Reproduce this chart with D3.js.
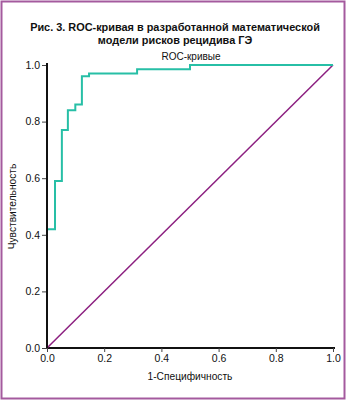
<!DOCTYPE html>
<html>
<head>
<meta charset="utf-8">
<script src="https://cdn.jsdelivr.net/npm/d3@7"></script>
<style>
  body { margin: 0; background: #fff; }
  text { font-family: "Liberation Sans", Arial, sans-serif; fill: #111; }
</style>
</head>
<body>
<svg id="chart"></svg>
<script>
// ROC curve (step points)
const fpr = [0, 0.028, 0.052, 0.073, 0.099, 0.122, 0.147, 0.315, 0.5, 1.0];
const tpr = [0, 0.42, 0.59, 0.77, 0.84, 0.86, 0.96, 0.97, 0.985, 1.0];
const refLine = [0, 1];
const tickValues = [0, 0.2, 0.4, 0.6, 0.8, 1.0];

const titleLines = ['Рис. 3. ROC-кривая в разработанной математической', 'модели рисков рецидива ГЭ'];
const subTitle = 'ROC-кривые';
const xTitle = '1-Специфичность';
const yTitle = 'Чувствительность';

const W = 350, H = 402;
const margin = {top: 65, right: 17, bottom: 54, left: 47};
const width = 333 - margin.left;
const height = 348 - margin.top;

const svg = d3.select('#chart').attr('width', W).attr('height', H);

// frame
svg.append('rect')
    .attr('x', 1.5).attr('y', 1.5)
    .attr('width', 343).attr('height', 397)
    .attr('fill', 'none')
    .attr('stroke', '#a45a9e')
    .attr('stroke-width', 2);

// titles
svg.selectAll('.title')
    .data(titleLines)
    .enter().append('text')
    .attr('class', 'title')
    .attr('x', 175)
    .attr('y', (d, i) => 31 + i * 13)
    .attr('text-anchor', 'middle')
    .style('font-size', '10.9px')
    .style('font-weight', 'bold')
    .text(d => d);

svg.append('text')
    .attr('x', 191).attr('y', 60)
    .attr('text-anchor', 'middle')
    .style('font-size', '10px')
    .text(subTitle);

const chart = svg.append('g')
    .attr('transform', `translate(${margin.left},${margin.top})`);

const xScale = d3.scaleLinear().domain([0, 1]).range([0, width]);
const yScale = d3.scaleLinear().domain([0, 1]).range([height, 0]);

const xAxis = d3.axisBottom(xScale).tickValues(tickValues).tickFormat(d3.format('.1f')).tickSize(4).tickPadding(3);
const yAxis = d3.axisLeft(yScale).tickValues(tickValues).tickFormat(d3.format('.1f')).tickSize(5).tickPadding(2);

const xAxisG = chart.append('g')
    .attr('transform', `translate(0,${height})`)
    .call(xAxis);
const yAxisG = chart.append('g')
    .call(yAxis);

[xAxisG, yAxisG].forEach(g => {
  g.select('.domain').attr('stroke', '#111').attr('stroke-width', 2);
  g.selectAll('.tick line').attr('stroke', '#444').attr('stroke-width', 1);
  g.selectAll('.tick text').style('font-size', '10.5px').attr('fill', '#111')
      .style('font-family', '"Liberation Sans", Arial, sans-serif');
});
xAxisG.select('.domain').attr('d', `M0,0H${width + 2}`);
yAxisG.select('.domain').attr('d', `M0,${height}V-2`);

// reference diagonal
chart.append('path')
    .datum(refLine)
    .attr('fill', 'none')
    .attr('stroke', '#8c1f80')
    .attr('stroke-width', 1.5)
    .attr('d', d3.line().x(d => xScale(d)).y(d => yScale(d)));

// ROC curve
const rocData = fpr.map((d, i) => ({x: d, y: tpr[i]}));
chart.append('path')
    .datum(rocData)
    .attr('fill', 'none')
    .attr('stroke', '#27bfa6')
    .attr('stroke-width', 2)
    .attr('d', d3.line().curve(d3.curveStepBefore).x(d => xScale(d.x)).y(d => yScale(d.y)));

// redraw y-axis line on top of the curve segment along x = 0
chart.append('line')
    .attr('x1', 0).attr('x2', 0)
    .attr('y1', height).attr('y2', -2)
    .attr('stroke', '#111').attr('stroke-width', 2);

// axis titles
svg.append('text')
    .attr('x', margin.left + width / 2).attr('y', 380)
    .attr('text-anchor', 'middle')
    .style('font-size', '10.2px')
    .text(xTitle);

svg.append('text')
    .attr('transform', `translate(16,${margin.top + height / 2}) rotate(-90)`)
    .attr('text-anchor', 'middle')
    .style('font-size', '10.2px')
    .text(yTitle);
</script>
</body>
</html>
